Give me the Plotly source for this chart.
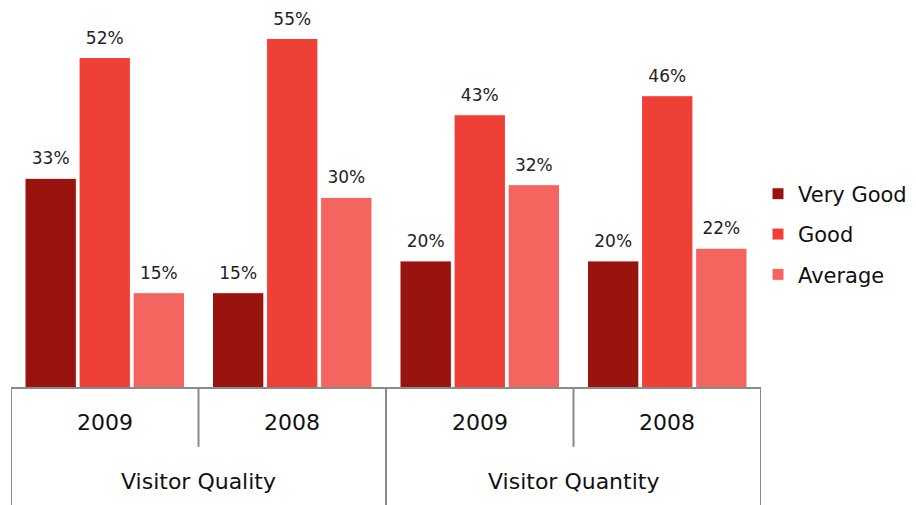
import plotly.graph_objects as go

group_names = ["Visitor Quality", "Visitor Quantity"]
years = ["2009", "2008", "2009", "2008"]
categories = ["VQl 2009", "VQl 2008", "VQn 2009", "VQn 2008"]

very_good = [33, 15, 20, 20]
good = [52, 55, 43, 46]
average = [15, 30, 32, 22]

series = [
    ("Very Good", very_good, "rgb(153,20,14)"),
    ("Good", good, "rgb(239,64,56)"),
    ("Average", average, "rgb(243,101,94)"),
]

FONT = "DejaVu Sans, sans-serif"
LINE = "#8a8a8a"

fig = go.Figure()
for name, vals, color in series:
    fig.add_trace(
        go.Bar(
            x=categories,
            y=vals,
            name=name,
            legendgroup=name,
            offsetgroup=name,
            marker=dict(color=color, line=dict(color="white", width=1)),
            hoverinfo="skip",
        )
    )
# value labels, lifted a little above the bars
for name, vals, color in series:
    fig.add_trace(
        go.Scatter(
            x=categories,
            y=vals,
            offsetgroup=name,
            mode="markers+text",
            text=[f"{v}%" for v in vals],
            textposition="top center",
            textfont=dict(size=17, color="#222222", family=FONT),
            marker=dict(size=14, opacity=0),
            showlegend=False,
            cliponaxis=False,
        )
    )

# axis "table": year labels, group labels and divider lines
for c, yr in zip(categories, years):
    fig.add_annotation(x=c, y=-0.092, xref="x", yref="paper", yanchor="middle", text=yr,
                       showarrow=False, font=dict(size=22, color="#111111", family=FONT))
for k, g in enumerate(group_names):
    fig.add_annotation(x=2 * k + 0.5, y=-0.247, xref="x", yref="paper", yanchor="middle",
                       text=g, showarrow=False,
                       font=dict(size=22, color="#111111", family=FONT))

for xb in [-0.5, 1.5, 3.5]:
    fig.add_shape(type="line", x0=xb, x1=xb, y0=0, y1=-0.33, xref="x", yref="paper",
                  line=dict(color=LINE, width=2))
for xb in [0.5, 2.5]:
    fig.add_shape(type="line", x0=xb, x1=xb, y0=0, y1=-0.155, xref="x", yref="paper",
                  line=dict(color=LINE, width=2))
fig.add_shape(type="line", x0=-0.5, x1=3.5, y0=0, y1=0, xref="x", yref="paper",
              line=dict(color=LINE, width=2))

fig.update_layout(
    width=916,
    height=505,
    margin=dict(l=3, r=163, t=0, b=125),
    plot_bgcolor="white",
    paper_bgcolor="white",
    font=dict(family=FONT, color="#111111"),
    barmode="group",
    bargap=0.135,
    bargroupgap=0.05,
    scattermode="group",
    scattergap=0.135,
    showlegend=True,
    legend=dict(
        x=0.996, y=0.405, xanchor="left", yanchor="middle",
        bgcolor="rgba(0,0,0,0)",
        font=dict(size=21, family=FONT, color="#111111"),
        traceorder="grouped", tracegroupgap=10,
    ),
    xaxis=dict(showticklabels=False, showgrid=False, zeroline=False,
               range=[-0.5, 3.5], fixedrange=True),
    yaxis=dict(visible=False, range=[0, 59.8], showgrid=False, zeroline=False),
)

fig.write_html("out.html")
